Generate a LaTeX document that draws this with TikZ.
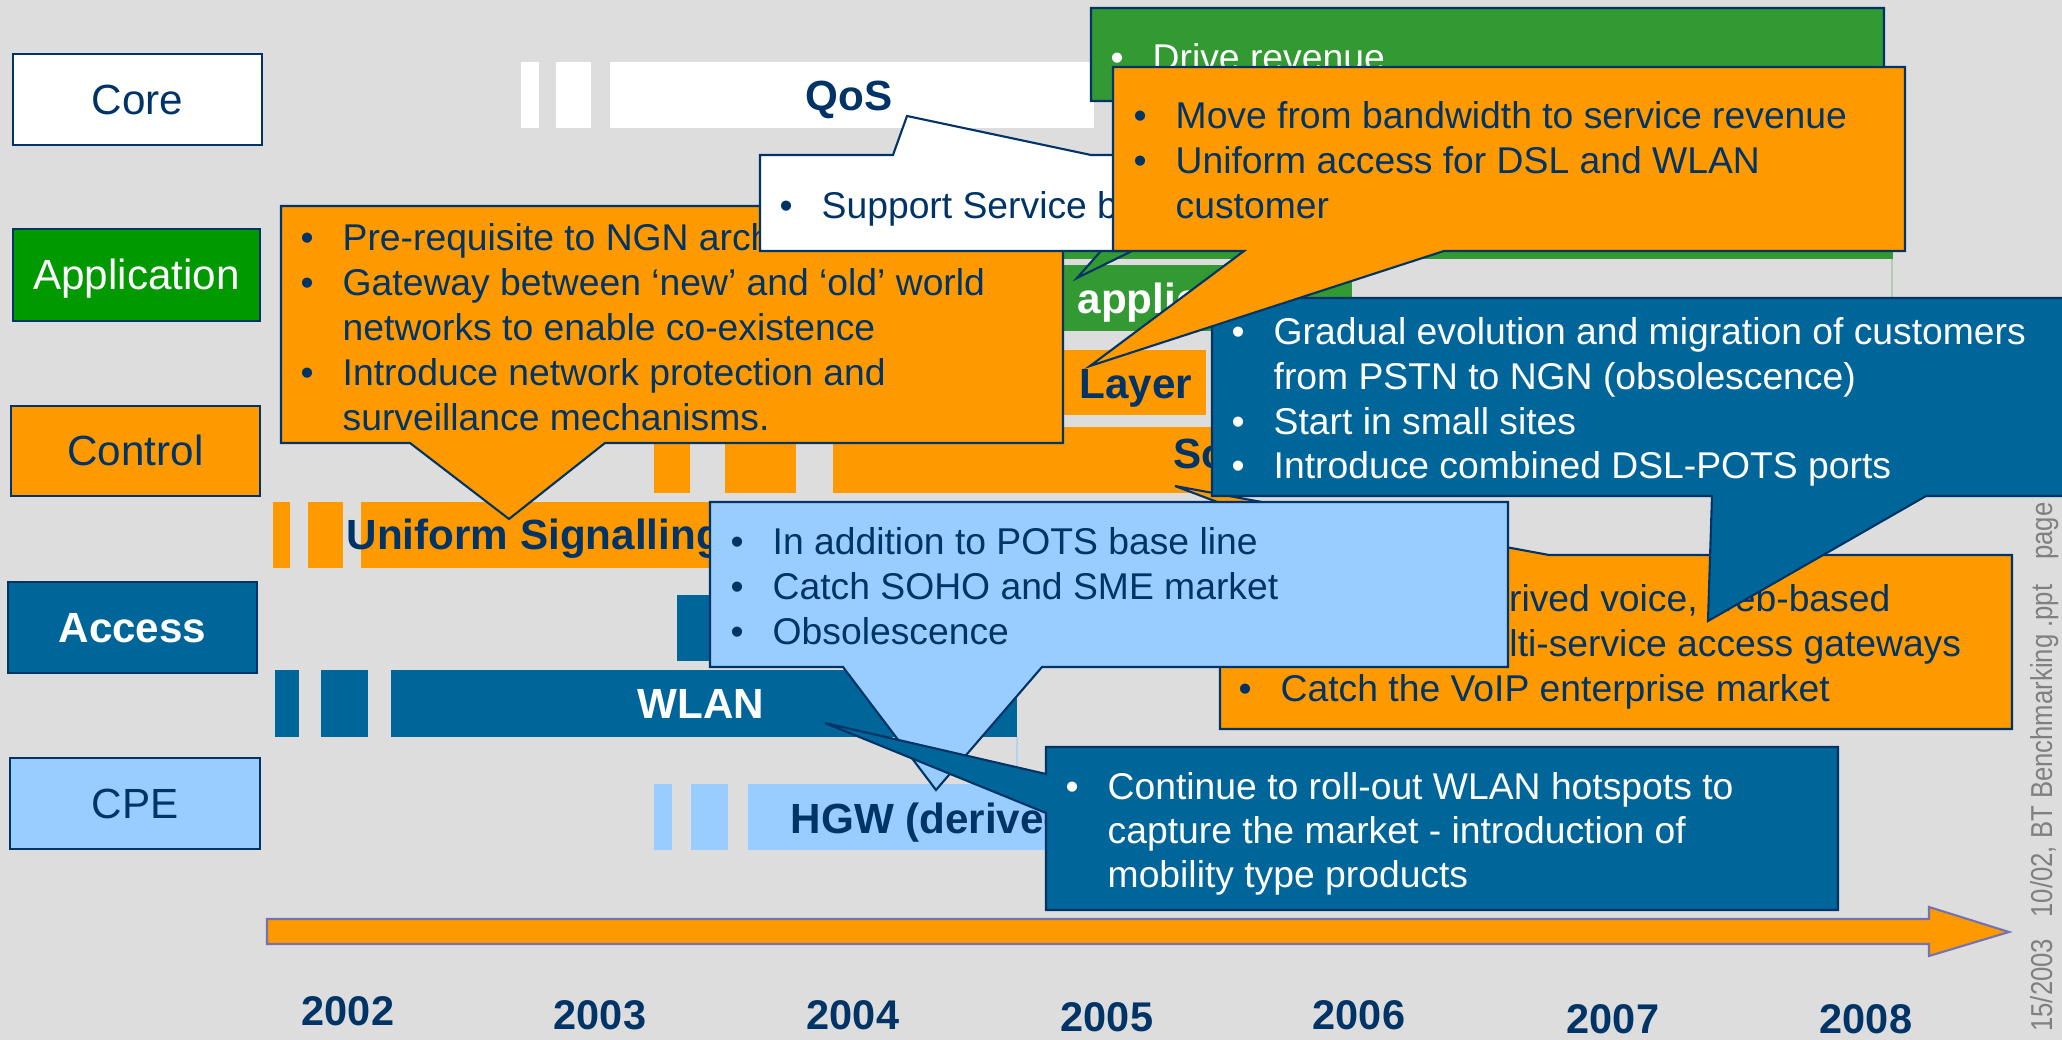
\documentclass[tikz,border=0pt]{standalone}
\usepackage{fontspec}
\usepackage{graphicx}
\setmainfont{Liberation Sans}

\definecolor{navy}{RGB}{0,51,102}
\definecolor{bgray}{RGB}{221,221,221}
\definecolor{orng}{RGB}{255,153,0}
\definecolor{dblue}{RGB}{0,102,153}
\definecolor{lblue}{RGB}{153,204,255}
\definecolor{lgreen}{RGB}{0,153,0}
\definecolor{mgreen}{RGB}{51,153,51}
\definecolor{foot}{RGB}{128,128,128}
\definecolor{arrowedge}{RGB}{118,114,176}

\newcommand\mylabfont{\fontsize{12}{14}\selectfont}
\newcommand\mybarfont{\fontsize{12}{14}\selectfont\bfseries}
\newcommand\mycallfont{\fontsize{10.6}{12.8}\selectfont}
\newcommand\myyearfont{\fontsize{11.8}{14}\selectfont\bfseries}
\newcommand\myfootfont{\fontsize{8.6}{10}\selectfont}
\newcommand\bul{\makebox[0.42cm][l]{\textbullet}}
\newcommand\narrow[1]{\scalebox{0.85}[1]{#1}}

\begin{document}
\begin{tikzpicture}[
  x=0.01cm, y=-0.01cm,
  lab/.style={draw=navy, line width=0.6pt, inner sep=0pt, text height=0.38cm,
              text depth=0.09cm, font=\mylabfont, text=navy},
  cbox/.style={draw=navy, line width=0.6pt, line join=miter},
  ln/.style={inner sep=0pt, anchor=base west, font=\mycallfont},
  bartxt/.style={inner sep=0pt, font=\mybarfont},
  yr/.style={inner sep=0pt, anchor=base, font=\myyearfont, text=navy},
  foottxt/.style={inner sep=0pt, rotate=90, font=\myfootfont, text=foot}
]
\useasboundingbox (0,0) rectangle (2062,1040);
\fill[bgray] (0,0) rectangle (2062,1040);

% ---- layer labels ----
\node[lab, fill=white, minimum width=2.49cm, minimum height=0.91cm] (core) at (137.5,99.5) {Core};
\node[lab, fill=lgreen, text=white, minimum width=2.47cm, minimum height=0.92cm] (appl) at (136.5,275) {Application};
\node[lab, fill=orng, minimum width=2.49cm, minimum height=0.90cm] (ctrl) at (135.5,451) {Control};
\node[lab, fill=dblue, text=white, font=\mylabfont\bfseries, minimum width=2.49cm, minimum height=0.91cm] (acc) at (132.5,627.5) {Access};
\node[lab, fill=lblue, minimum width=2.50cm, minimum height=0.91cm] (cpe) at (135,803.5) {CPE};

% ---- timeline bars ----
% core
\fill[white] (521,62) rectangle (539,128);
\fill[white] (556,62) rectangle (591,128);
\fill[white] (610,62) rectangle (1094,128);
\node[bartxt, text=navy, anchor=base] (qos) at (849,111) {QoS};
% application
\fill[mgreen] (1062,240) rectangle (1893,259);
\draw[mgreen!25!bgray, line width=0.4pt] (1892,259) -- (1892,298);
\fill[mgreen] (1062,265) rectangle (1352,331);
\node[bartxt, text=white, anchor=base west] (apps) at (1077,314) {applic};
% control
\fill[orng] (1000,350) rectangle (1206,415);
\node[bartxt, text=navy, anchor=base west] (layer) at (1079,399) {Layer};
\fill[orng] (654,427) rectangle (690,493);
\fill[orng] (725,427) rectangle (796,493);
\fill[orng] (833,427) rectangle (1300,493);
\node[bartxt, text=navy, anchor=base west] (soft) at (1173,469) {So};
\fill[orng] (273,502) rectangle (290,568);
\fill[orng] (308,502) rectangle (343,568);
\fill[orng] (361,502) rectangle (900,568);
\node[bartxt, text=navy, anchor=base west] (unisig) at (346,550) {Uniform Signalling};
% access
\fill[dblue] (677,595) rectangle (1000,661);
\fill[dblue] (275,670) rectangle (299,737);
\fill[dblue] (321,670) rectangle (368,737);
\fill[dblue] (391,670) rectangle (1017,737);
\draw[lblue!60!bgray, line width=0.4pt] (1017,737) -- (1017,784);
\node[bartxt, text=white, anchor=base] (wlan) at (701,719) {WLAN};
% cpe
\fill[lblue] (654,784) rectangle (672,850);
\fill[lblue] (691,784) rectangle (728,850);
\fill[lblue] (748,784) rectangle (1200,850);
\node[bartxt, text=navy, anchor=base west] (hgw) at (790,834) {HGW (derived};

% ---- callouts ----
% revenue (green)
\coordinate (tipApp) at (1077,278);
\filldraw[cbox, fill=mgreen] (1091,8) -- (1884,8) -- (1884,101) -- (1438,101) -- (tipApp) -- (1234,101) -- (1091,101) -- cycle;
\node[ln, text=white] (drv) at (1110,71) {\bul Drive revenue};

% NGN prerequisites (orange, left)
\coordinate (tipSig) at (509,519);
\filldraw[cbox, fill=orng] (281,206) -- (1063,206) -- (1063,443) -- (605,443) -- (tipSig) -- (410,443) -- (281,443) -- cycle;
\node[ln, text=navy] (pr1) at (300,251) {\bul Pre-requisite to NGN arch};
\node[ln, text=navy] (pr2) at (300,296) {\bul Gateway between ‘new’ and ‘old’ world};
\node[ln, text=navy] (pr3) at (342,341) {networks to enable co-existence};
\node[ln, text=navy] (pr4) at (300,386) {\bul Introduce network protection and};
\node[ln, text=navy] (pr5) at (342,431) {surveillance mechanisms.};

% service support (white)
\coordinate (tipQoS) at (907,116);
\filldraw[cbox, fill=white] (760,155) -- (893,155) -- (tipQoS) -- (1091,155) -- (1130,155) -- (1130,251) -- (760,251) -- cycle;
\node[ln, text=navy] (sup) at (779,219) {\bul Support Service b};

% VoIP gateways (orange, lower right)
\coordinate (tipSo) at (1175,486);
\filldraw[cbox, fill=orng] (1220,555) -- (1357,555) -- (tipSo) -- (1549,555) -- (2012,555) -- (2012,729) -- (1220,729) -- cycle;
\node[ln, text=navy] (vo1) at (1467,612) {derived voice, web-based};
\node[ln, text=navy] (vo2) at (1457,657) {multi-service access gateways};
\node[ln, text=navy] (vo3) at (1238,702) {\bul Catch the VoIP enterprise market};

% migration (dark blue)
\coordinate (tipGr) at (1708,621);
\filldraw[cbox, fill=dblue] (1212,298) -- (2080,298) -- (2080,496) -- (1926,496) -- (tipGr) -- (1712,496) -- (1212,496) -- cycle;
\node[ln, text=white] (gr1) at (1231,345) {\bul Gradual evolution and migration of customers};
\node[ln, text=white] (gr2) at (1273,390) {from PSTN to NGN (obsolescence)};
\node[ln, text=white] (gr3) at (1231,435) {\bul Start in small sites};
\node[ln, text=white] (gr4) at (1231,479) {\bul Introduce combined DSL-POTS ports};

% service revenue (orange, top)
\coordinate (tipLay) at (1090,366);
\filldraw[cbox, fill=orng] (1113,67) -- (1905,67) -- (1905,251) -- (1444,251) -- (tipLay) -- (1244,251) -- (1113,251) -- cycle;
\node[ln, text=navy] (mv1) at (1133,129) {\bul Move from bandwidth to service revenue};
\node[ln, text=navy] (mv2) at (1133,174) {\bul Uniform access for DSL and WLAN};
\node[ln, text=navy] (mv3) at (1175,219) {customer};

% home gateway (light blue)
\coordinate (tipHgw) at (936,790);
\filldraw[cbox, fill=lblue] (710,502) -- (1508,502) -- (1508,667) -- (1042,667) -- (tipHgw) -- (843,667) -- (710,667) -- cycle;
\node[ln, text=navy] (hg1) at (730,555) {\bul In addition to POTS base line};
\node[ln, text=navy] (hg2) at (730,600) {\bul Catch SOHO and SME market};
\node[ln, text=navy] (hg3) at (730,645) {\bul Obsolescence};

% hotspots (dark blue)
\coordinate (tipWl) at (825,723);
\filldraw[cbox, fill=dblue] (1046,747) -- (1838,747) -- (1838,910) -- (1046,910) -- (1046,813) -- (tipWl) -- (1046,774) -- cycle;
\node[ln, text=white] (ho1) at (1065,800) {\bul Continue to roll-out WLAN hotspots to};
\node[ln, text=white] (ho2) at (1107,844) {capture the market - introduction of};
\node[ln, text=white] (ho3) at (1107,888) {mobility type products};

% ---- time axis ----
\filldraw[draw=arrowedge, fill=orng, line width=0.6pt, line join=miter]
  (267,919) -- (1929,919) -- (1929,907) -- (2009,932) -- (1929,956) -- (1929,944) -- (267,944) -- cycle;
\node[yr] (y02) at (348,1026) {2002};
\node[yr] (y03) at (600,1030) {2003};
\node[yr] (y04) at (853,1030) {2004};
\node[yr] (y05) at (1107,1032) {2005};
\node[yr] (y06) at (1359,1030) {2006};
\node[yr] (y07) at (1613,1034) {2007};
\node[yr] (y08) at (1866,1034) {2008};

% ---- footer ----
\node[foottxt, anchor=base] (pg) at (2052,531) {\narrow{page}};
\node[foottxt, anchor=base] (doc) at (2052,751) {\narrow{10/02, BT Benchmarking .ppt}};
\node[foottxt, anchor=base east] (dt) at (2052,938) {\narrow{15/2003}};
\end{tikzpicture}
\end{document}
